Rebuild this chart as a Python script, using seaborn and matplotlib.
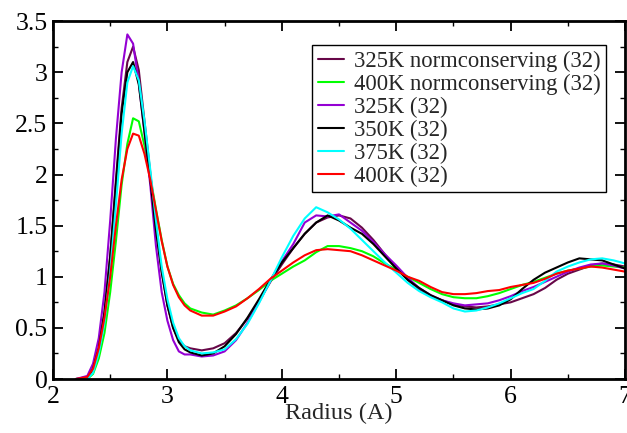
import matplotlib
matplotlib.use("Agg")
import matplotlib.pyplot as plt
from matplotlib.ticker import MultipleLocator
import seaborn as sns
import pandas as pd

radius = [2.2, 2.3, 2.35, 2.4, 2.45, 2.5, 2.55, 2.6, 2.65, 2.7, 2.75, 2.8, 2.85, 2.9, 2.95,
          3.0, 3.05, 3.1, 3.15, 3.2, 3.3, 3.4, 3.5, 3.6, 3.7, 3.8, 3.9, 4.0, 4.1, 4.2,
          4.3, 4.4, 4.5, 4.6, 4.7, 4.8, 4.9, 5.0, 5.1, 5.2, 5.3, 5.4, 5.5, 5.6, 5.7,
          5.8, 5.9, 6.0, 6.1, 6.2, 6.3, 6.4, 6.5, 6.6, 6.7, 6.8, 6.9, 7.0]

g_325_nc = [0.0, 0.02, 0.10, 0.30, 0.65, 1.20, 1.95, 2.65, 3.10, 3.25, 3.02, 2.52, 2.02, 1.50, 1.05,
            0.72, 0.50, 0.38, 0.32, 0.30, 0.28, 0.30, 0.35, 0.45, 0.59, 0.76, 0.95, 1.12, 1.28, 1.42,
            1.53, 1.58, 1.60, 1.57, 1.48, 1.36, 1.22, 1.09, 0.97, 0.88, 0.81, 0.77, 0.73, 0.71, 0.70,
            0.71, 0.73, 0.75, 0.79, 0.83, 0.89, 0.97, 1.03, 1.07, 1.11, 1.13, 1.12, 1.10]

g_400_nc = [0.0, 0.0, 0.05, 0.20, 0.45, 0.85, 1.35, 1.90, 2.30, 2.55, 2.52, 2.28, 1.98, 1.66, 1.36,
            1.10, 0.93, 0.82, 0.74, 0.69, 0.65, 0.63, 0.67, 0.72, 0.79, 0.87, 0.96, 1.03, 1.10, 1.16,
            1.24, 1.30, 1.30, 1.28, 1.25, 1.20, 1.13, 1.07, 1.00, 0.94, 0.88, 0.83, 0.80, 0.79, 0.79,
            0.81, 0.84, 0.88, 0.92, 0.95, 0.99, 1.03, 1.06, 1.08, 1.10, 1.11, 1.10, 1.09]

g_325 = [0.0, 0.03, 0.15, 0.40, 0.85, 1.55, 2.35, 3.00, 3.37, 3.28, 2.90, 2.40, 1.90, 1.30, 0.85,
         0.57, 0.38, 0.27, 0.24, 0.24, 0.22, 0.23, 0.27, 0.38, 0.55, 0.75, 0.96, 1.15, 1.32, 1.53,
         1.60, 1.59, 1.61, 1.53, 1.45, 1.34, 1.22, 1.11, 0.99, 0.89, 0.82, 0.77, 0.74, 0.72, 0.73,
         0.74, 0.77, 0.81, 0.86, 0.90, 0.95, 1.00, 1.05, 1.09, 1.12, 1.13, 1.11, 1.08]

g_350 = [0.0, 0.0, 0.10, 0.30, 0.65, 1.20, 1.90, 2.60, 3.00, 3.10, 2.88, 2.42, 1.95, 1.45, 1.05,
         0.72, 0.50, 0.36, 0.29, 0.26, 0.23, 0.25, 0.32, 0.44, 0.60, 0.78, 0.97, 1.14, 1.28, 1.42,
         1.53, 1.60, 1.55, 1.48, 1.42, 1.32, 1.20, 1.08, 0.97, 0.89, 0.82, 0.77, 0.72, 0.69, 0.68,
         0.69, 0.72, 0.78, 0.88, 0.97, 1.04, 1.09, 1.14, 1.18, 1.17, 1.16, 1.12, 1.08]

g_375 = [0.0, 0.0, 0.06, 0.25, 0.55, 1.05, 1.70, 2.40, 2.90, 3.06, 2.92, 2.52, 2.05, 1.55, 1.10,
         0.78, 0.55, 0.40, 0.32, 0.28, 0.25, 0.26, 0.29, 0.39, 0.54, 0.74, 0.96, 1.19, 1.40, 1.57,
         1.68, 1.63, 1.56, 1.47, 1.36, 1.25, 1.14, 1.04, 0.94, 0.86, 0.80, 0.75, 0.69, 0.66, 0.67,
         0.70, 0.74, 0.79, 0.84, 0.88, 0.96, 1.05, 1.10, 1.14, 1.17, 1.18, 1.16, 1.13]

g_400 = [0.0, 0.02, 0.10, 0.30, 0.60, 1.00, 1.50, 1.95, 2.25, 2.40, 2.38, 2.20, 1.95, 1.65, 1.35,
         1.10, 0.92, 0.80, 0.72, 0.67, 0.62, 0.62, 0.66, 0.71, 0.79, 0.88, 0.98, 1.06, 1.14, 1.21,
         1.26, 1.27, 1.26, 1.25, 1.21, 1.16, 1.11, 1.06, 1.00, 0.96, 0.90, 0.85, 0.83, 0.83, 0.84,
         0.86, 0.87, 0.90, 0.92, 0.94, 0.98, 1.03, 1.06, 1.08, 1.10, 1.09, 1.07, 1.05]

series_labels = ["325K normconserving (32)", "400K normconserving (32)", "325K (32)",
                 "350K (32)", "375K (32)", "400K (32)"]
series_values = [g_325_nc, g_400_nc, g_325, g_350, g_375, g_400]
series_colors = ["#670748", "#00ff00", "#9400d3", "#000000", "#00ffff", "#ff0000"]

x_ticks = [2, 3, 4, 5, 6, 7]
y_ticks = [0, 0.5, 1, 1.5, 2, 2.5, 3, 3.5]
y_tick_labels = ["0", "0.5", "1", "1.5", "2", "2.5", "3", "3.5"]

frames = []
for lab, vals in zip(series_labels, series_values):
    frames.append(pd.DataFrame({"Radius": radius, "g": vals, "Series": lab}))
df = pd.concat(frames, ignore_index=True)

sns.set_style("ticks")
plt.rcParams["font.family"] = ["Liberation Serif", "DejaVu Serif"]

fig = plt.figure(figsize=(6.27, 4.33), dpi=100)
ax = fig.add_axes([0.0845, 0.1247, 0.9125, 0.8265])

sns.lineplot(data=df, x="Radius", y="g", hue="Series", hue_order=series_labels,
             palette=dict(zip(series_labels, series_colors)), estimator=None, sort=False,
             linewidth=1.5, ax=ax)

ax.set_xlim(2, 7)
ax.set_ylim(0, 3.5)
ax.set_xticks(x_ticks)
ax.set_xticklabels([str(t) for t in x_ticks])
ax.set_yticks(y_ticks)
ax.set_yticklabels(y_tick_labels)
ax.xaxis.set_minor_locator(MultipleLocator(0.5))
ax.yaxis.set_minor_locator(MultipleLocator(0.25))
ax.tick_params(which="major", direction="in", top=True, right=True, length=7, width=1.3,
               labelsize=18.5, color="black", labelcolor="black")
ax.tick_params(axis="x", which="major", pad=5)
ax.tick_params(axis="y", which="major", pad=4)
ax.tick_params(which="minor", direction="in", top=True, right=True, length=3.5, width=1.0,
               color="black")
for sp in ax.spines.values():
    sp.set_visible(True)
    sp.set_linewidth(2.0)
    sp.set_color("black")

ax.set_xlabel("Radius (A)", fontsize=17.5, labelpad=-4)
ax.set_ylabel("")

leg = ax.legend(loc="upper right", bbox_to_anchor=(0.967, 0.933), borderaxespad=0,
                fontsize=16.3, frameon=True, fancybox=False, handlelength=1.15,
                handletextpad=0.45, labelspacing=0.08, borderpad=0.25)
leg.get_frame().set_edgecolor("black")
leg.get_frame().set_linewidth(1.0)
leg.get_frame().set_alpha(1)

fig.savefig("out.png", dpi=100)
